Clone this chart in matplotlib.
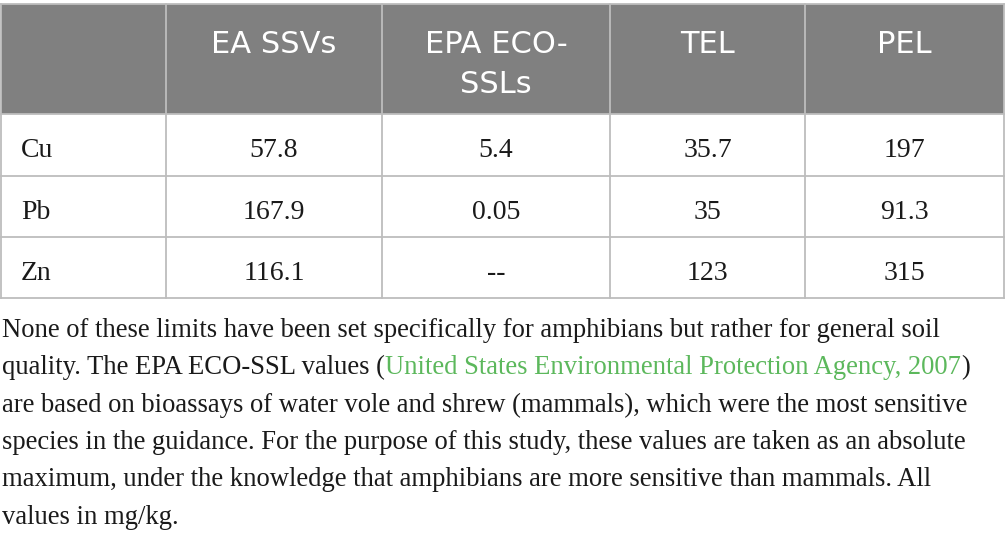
import matplotlib
matplotlib.use("Agg")
from matplotlib import pyplot as plt
from matplotlib.patches import Rectangle

# table content
headers = ["", "EA SSVs", "EPA ECO-\nSSLs", "TEL", "PEL"]
elements = ["Cu", "Pb", "Zn"]
ea_ssvs = [57.8, 167.9, 116.1]
epa_eco_ssls = [5.4, 0.05, None]
tel = [35.7, 35, 123]
pel = [197, 91.3, 315]

caption_lines = [
    [("None of these limits have been set specifically for amphibians but rather for general soil", "k")],
    [("quality. The EPA ECO-SSL values (", "k"),
     ("United States Environmental Protection Agency, 2007", "link"),
     (")", "k")],
    [("are based on bioassays of water vole and shrew (mammals), which were the most sensitive", "k")],
    [("species in the guidance. For the purpose of this study, these values are taken as an absolute", "k")],
    [("maximum, under the knowledge that amphibians are more sensitive than mammals. All", "k")],
    [("values in mg/kg.", "k")],
]

# layout in pixels
col_edges = [1, 166, 382, 610, 805, 1004]
row_edges = [4, 114, 176, 237, 298]
header_color = "#808080"
line_color = "#bdbdbd"
link_color = "#5cb85c"
text_color = "#1a1a1a"


def fmt(v):
    return "--" if v is None else f"{v:g}"


fig = plt.figure(figsize=(10.05, 5.38), dpi=100)
ax = fig.add_axes([0, 0, 1, 1])
ax.set_xlim(0, 1005)
ax.set_ylim(538, 0)
ax.axis("off")

ax.add_patch(Rectangle((col_edges[0], row_edges[0]), col_edges[-1] - col_edges[0],
                       row_edges[1] - row_edges[0], color=header_color, lw=0))

for y in row_edges:
    ax.plot([col_edges[0], col_edges[-1]], [y, y], color=line_color, lw=1.3)
for x in col_edges:
    ax.plot([x, x], [row_edges[0], row_edges[-1]], color=line_color, lw=1.3)

# header
for j, h in enumerate(headers):
    cx = (col_edges[j] + col_edges[j + 1]) / 2
    for k, part in enumerate(h.split("\n")):
        ax.text(cx, 53 + 40 * k, part, ha="center", va="baseline", color="white",
                fontsize=22, family="DejaVu Sans")

# body
columns = [ea_ssvs, epa_eco_ssls, tel, pel]
for i, el in enumerate(elements):
    base = row_edges[i + 1] + 43
    ax.text(21, base, el, ha="left", va="baseline", color=text_color,
            fontsize=20, family="Liberation Serif")
    for j, col in enumerate(columns):
        cx = (col_edges[j + 1] + col_edges[j + 2]) / 2
        ax.text(cx, base, fmt(col[i]), ha="center", va="baseline", color=text_color,
                fontsize=20, family="Liberation Serif")

# caption under the table
renderer = fig.canvas.get_renderer()
for n, segs in enumerate(caption_lines):
    x = 2
    y = 337 + 37.3 * n
    for txt, c in segs:
        t = ax.text(x, y, txt, ha="left", va="baseline",
                    color=link_color if c == "link" else text_color,
                    fontsize=19.2, family="Liberation Serif")
        x += t.get_window_extent(renderer).width

fig.savefig("out.png", dpi=100)
